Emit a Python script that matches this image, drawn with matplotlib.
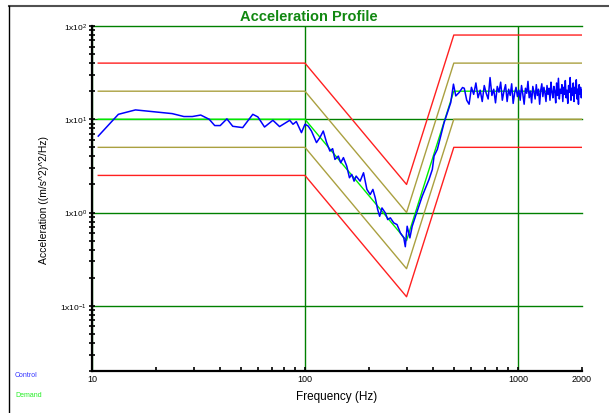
import matplotlib

matplotlib.use("Agg")
import matplotlib.pyplot as plt
from matplotlib.lines import Line2D
from matplotlib.ticker import FixedLocator, NullFormatter

plt.rcParams["font.family"] = ["Liberation Sans", "DejaVu Sans"]

# ---------------------------------------------------------------------------
# Test profile (breakpoints) and tolerance bands
# ---------------------------------------------------------------------------
profile_freq = [10.7, 100, 300, 500, 2000]
demand = [10, 10, 0.5, 20, 20]
alarm_hi = [20, 20, 1.0, 40, 40]
alarm_lo = [5, 5, 0.25, 10, 10]
abort_hi = [40, 40, 2.0, 80, 80]
abort_lo = [2.5, 2.5, 0.125, 5, 5]

# ---------------------------------------------------------------------------
# Measured control spectrum, read off the picture
# ---------------------------------------------------------------------------
low_freq = [10.7, 13.3, 16.0, 23.8, 27.0, 29.6, 32.4, 35.5, 37.7, 40.0, 43.0,
            45.8, 51.0, 56.9, 60.1, 64.6, 70.7, 76.0, 84.8, 87.9, 91.1, 96.3]
low_psd = [6.6, 11.3, 12.6, 11.5, 10.7, 10.7, 11.1, 10.0, 8.56, 8.56, 10.1,
           8.41, 8.14, 11.3, 10.6, 8.26, 9.75, 8.35, 9.75, 8.84, 9.45, 7.19]

notch_freq = [100, 103.5, 107.3, 113.3, 117.5, 121.9, 126.4, 131.0, 134.9,
              138.3, 143.5, 147.2, 151.6, 157.1, 161.8, 165.9, 170.1, 173.9,
              181.6, 188.4, 195.4, 202.5, 208.5, 213.8, 219.5, 224.3, 230.0,
              238.5, 244.8, 251.8, 261.2, 270.7, 280.6, 291.2, 296, 302, 311,
              318.9, 330.4, 342.9, 355.5, 368.5, 382.4, 396.5, 403.9, 418.6,
              434.0, 450.3, 466.7, 483.8, 498.2, 510.9, 530.1, 549.5]
notch_psd = [8.84, 8.47, 7.48, 5.62, 6.36, 7.48, 5.62, 4.56, 4.84, 3.71, 4.03,
             3.42, 3.88, 3.15, 2.36, 2.56, 2.17, 2.46, 2.17, 2.67, 1.77, 1.56,
             1.77, 1.44, 1.08, 0.912, 1.12, 0.99, 0.84, 0.877, 0.775, 0.743,
             0.605, 0.535, 0.43, 0.713, 0.535, 0.713, 0.912, 1.17, 1.50, 1.84,
             2.26, 2.90, 4.03, 4.76, 6.61, 9.21, 11.8, 15.1, 23.8, 17.8, 19.4,
             21.9]

high_freq = [560, 575, 590, 605, 620, 635, 650, 665, 680, 695, 710, 725, 740,
             755, 770, 785, 800, 815, 830, 845, 860, 875, 890, 905, 920, 935,
             950, 965, 980, 995, 1010, 1025, 1040, 1055, 1070, 1085, 1100,
             1115, 1130, 1145, 1160, 1175, 1190, 1205, 1220, 1235, 1250, 1265,
             1280, 1295, 1310, 1325, 1340, 1355, 1370, 1385, 1400, 1415, 1430,
             1445, 1460, 1475, 1490, 1505, 1520, 1535, 1550, 1565, 1580, 1595,
             1610, 1625, 1640, 1655, 1670, 1685, 1700, 1715, 1730, 1745, 1760,
             1775, 1790, 1805, 1820, 1835, 1850, 1865, 1880, 1895, 1910, 1925,
             1940, 1955, 1970, 1985, 2000]
high_psd = [21.5, 16.0, 14.5, 22.0, 18.5, 24.5, 17.0, 20.5, 15.5, 23.0, 19.0,
            16.5, 28.0, 18.0, 21.0, 15.0, 22.5, 19.5, 25.0, 16.0, 20.0, 23.5,
            15.5, 21.0, 18.0, 24.0, 14.8, 19.0, 22.0, 17.5, 20.5, 16.0, 23.0,
            18.5, 14.5, 21.5, 19.0, 25.5, 17.0, 20.0, 15.0, 22.5, 19.5, 16.5,
            23.5, 18.0, 21.0, 14.5, 20.5, 24.0, 17.5, 22.0, 19.0, 15.5, 23.0,
            18.5, 21.5, 16.0, 25.0, 19.5, 17.0, 22.5, 20.0, 15.0, 24.5, 18.0,
            27.5, 16.5, 21.0, 19.0, 23.5, 15.5, 22.0, 18.5, 26.0, 17.0, 20.5,
            14.8, 23.0, 19.5, 28.0, 16.0, 21.5, 18.0, 24.5, 15.5, 22.0, 19.0,
            26.5, 16.5, 21.0, 14.5, 23.5, 18.5, 22.0, 17.0, 20.5]

control_freq = low_freq + notch_freq + high_freq
control_psd = low_psd + notch_psd + high_psd

y_ticks = [0.1, 1, 10, 100]
y_tick_labels = [r"$\mathregular{1x10^{-1}}$", r"$\mathregular{1x10^{0}}$",
                 r"$\mathregular{1x10^{1}}$", r"$\mathregular{1x10^{2}}$"]
x_ticks = [10, 100, 1000, 2000]
x_tick_labels = ["10", "100", "1000", "2000"]

GRID = "#008000"

fig = plt.figure(figsize=(6.09, 4.14), dpi=100)
ax = fig.add_axes([92 / 609, 42 / 414, 490 / 609, 345 / 414])
ax.set_xscale("log")
ax.set_yscale("log")
ax.set_xlim(10, 2000)
ax.set_ylim(0.02, 100)

ax.plot(profile_freq, abort_hi, color="#ff2020", lw=1, zorder=3)
ax.plot(profile_freq, abort_lo, color="#ff2020", lw=1, zorder=3)
ax.plot(profile_freq, alarm_hi, color="#aaa040", lw=1, zorder=3)
ax.plot(profile_freq, alarm_lo, color="#aaa040", lw=1, zorder=3)
ax.plot(profile_freq, demand, color="#00ee00", lw=1, zorder=4)
ax.plot(control_freq, control_psd, color="#0000ff", lw=1.1, zorder=5)

# axis ticks and labels
ax.xaxis.set_major_locator(FixedLocator(x_ticks))
ax.set_xticklabels(x_tick_labels)
ax.xaxis.set_minor_locator(FixedLocator(
    [m * d for d in (10, 100) for m in range(2, 10)]))
ax.xaxis.set_minor_formatter(NullFormatter())
ax.yaxis.set_major_locator(FixedLocator(y_ticks))
ax.set_yticklabels(y_tick_labels)
ax.yaxis.set_minor_locator(FixedLocator(
    [m * d for d in (0.01, 0.1, 1, 10) for m in range(2, 10)]))
ax.yaxis.set_minor_formatter(NullFormatter())

ax.tick_params(axis="x", which="both", direction="in", length=3, width=1.2,
               labelsize=6.5, pad=2)
ax.tick_params(axis="y", which="major", direction="inout", length=5, width=1.2,
               labelsize=6, pad=1)
ax.tick_params(axis="y", which="minor", direction="inout", length=4, width=1.2)

ax.grid(True, which="major", color=GRID, lw=1)
ax.xaxis.get_gridlines()[-1].set_visible(False)
for line in ax.get_ygridlines():
    line.set_clip_on(False)

for side in ("top", "right"):
    ax.spines[side].set_visible(False)
for side in ("left", "bottom"):
    ax.spines[side].set_linewidth(1.6)
    ax.spines[side].set_zorder(6)

ax.set_xlabel("Frequency (Hz)", fontsize=8.5, labelpad=5)
ax.set_ylabel("Acceleration ((m/s^2)^2/Hz)", fontsize=7.5, labelpad=8)

fig.text(0.507, 0.959, "Acceleration Profile", ha="center", va="center",
         fontsize=10.5, fontweight="bold", color="#118811")
fig.text(15 / 609, 1 - 376 / 414, "Control", color="#3333ff", fontsize=5,
         va="center")
fig.text(15 / 609, 1 - 396 / 414, "Demand", color="#22ee22", fontsize=5,
         va="center")

# outer frame of the report panel
fig.add_artist(Line2D([9 / 609, 1], [1 - 7 / 414, 1 - 7 / 414],
                      transform=fig.transFigure, color="#505050", lw=1.5))
fig.add_artist(Line2D([9 / 609, 9 / 609], [0, 1 - 7 / 414],
                      transform=fig.transFigure, color="black", lw=1))

fig.savefig("out.png", dpi=100)
